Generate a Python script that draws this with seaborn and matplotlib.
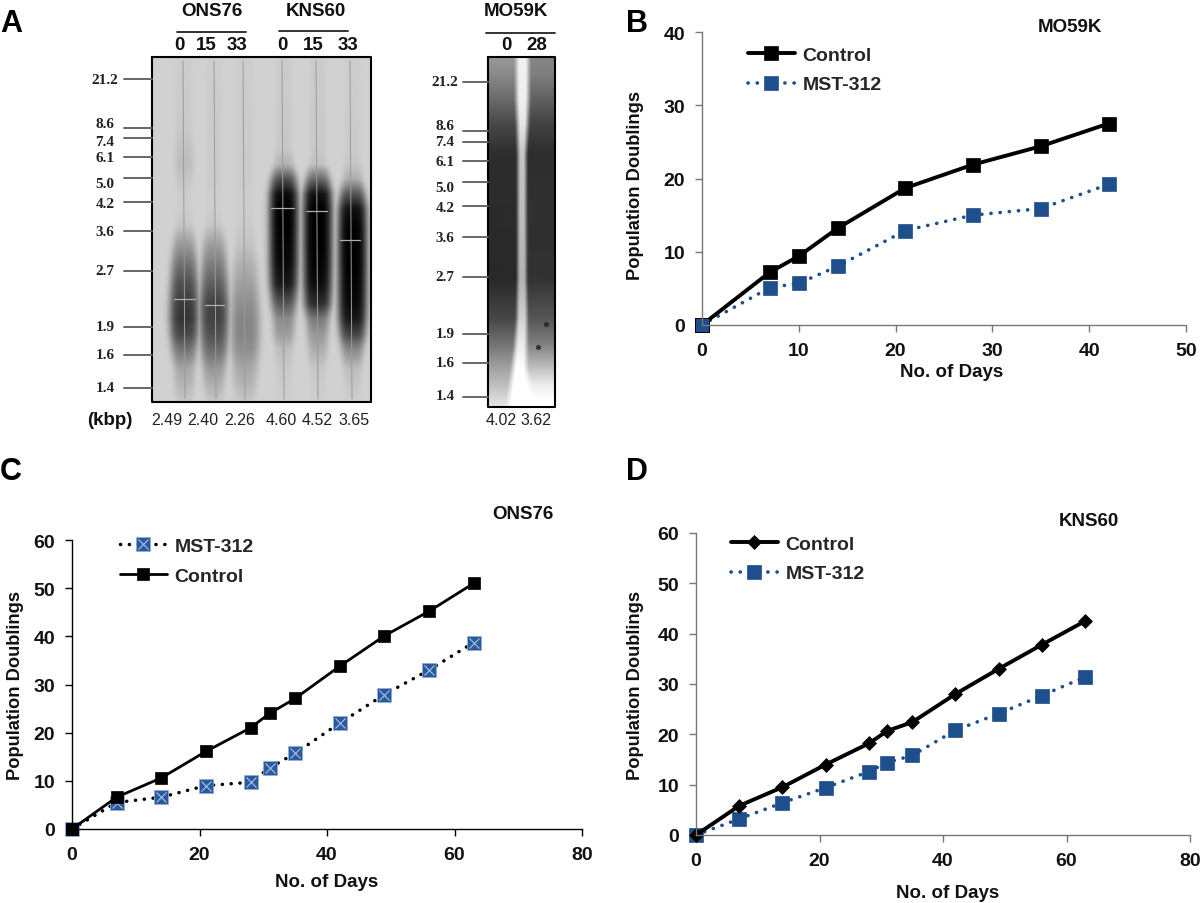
import numpy as np
import pandas as pd
import seaborn as sns
import matplotlib
matplotlib.use("Agg")
import matplotlib.pyplot as plt
from matplotlib.legend_handler import HandlerTuple

sns.set_theme(style="white")
plt.rcParams['font.family'] = ['Liberation Sans', 'DejaVu Sans']
plt.rcParams['font.weight'] = 'bold'

W, H = 1200, 904
BLUE = '#1f4e8c'

# ---- growth curves ----
days_b = [0, 7, 10, 14, 21, 28, 35, 42]
b_control = [0, 7.2, 9.4, 13.2, 18.7, 21.9, 24.4, 27.5]
b_mst = [0, 5.1, 5.7, 8.0, 12.9, 15.0, 15.9, 19.2]
days_cd = [0, 7, 14, 21, 28, 31, 35, 42, 49, 56, 63]
c_control = [0, 6.6, 10.6, 16.1, 21.0, 24.0, 27.1, 33.8, 40.1, 45.2, 51.0]
c_mst = [0, 5.5, 6.6, 9.0, 9.7, 12.7, 15.7, 22.0, 27.9, 33.0, 38.7]
d_control = [0, 5.8, 9.5, 14.0, 18.2, 20.7, 22.4, 28.0, 33.0, 37.8, 42.5]
d_mst = [0, 3.2, 6.4, 9.4, 12.6, 14.4, 15.8, 20.8, 24.1, 27.7, 31.4]

# ---- gel ----
size_labels = ['21.2', '8.6', '7.4', '6.1', '5.0', '4.2', '3.6', '2.7', '1.9', '1.6', '1.4']
gel1_rows = [58, 130, 150, 165, 180, 195, 210, 225, 245, 265, 285, 305, 320, 335, 350, 370, 385, 403]
gel1_lanes = {
    184: [.02, .04, .08, .10, .06, .02, .02, .05, .26, .46, .62, .72, .74, .66, .46, .20, .14, .05],
    214: [.02, .03, .03, .03, .03, .02, .02, .04, .24, .40, .55, .68, .68, .62, .50, .28, .17, .05],
    245: [.02, .03, .03, .03, .03, .02, .02, .03, .07, .16, .24, .32, .36, .36, .32, .20, .14, .05],
    284: [.03, .04, .05, .15, .62, .95, 1.0, 1.0, .98, .96, .88, .58, .34, .26, .10, .04, .03, .02],
    318: [.03, .04, .04, .08, .50, .92, 1.0, 1.0, 1.0, .98, .94, .78, .42, .28, .18, .05, .03, .02],
    353: [.02, .03, .03, .05, .18, .60, .92, .98, 1.0, 1.0, .98, .95, .88, .68, .36, .10, .05, .02],
}
gel1_halfwidth = 15
gel1_lines = [183, 214, 243, 282, 316, 350]

gel2_rows = [58, 75, 100, 125, 155, 280, 320, 345, 370, 385, 400, 408]
gel2_left = [.40, .46, .58, .72, .82, .84, .72, .55, .36, .26, .15, .10]
gel2_right = [.48, .50, .62, .74, .82, .80, .66, .50, .24, .08, .0, .0]
gel2_gap_left = [518, 518, 518, 519, 520, 520, 519, 517, 514, 512, 510, 509]
gel2_gap_right = [527, 527, 527, 526, 524, 524, 525, 525, 525, 528, 532, 535]
gel2_stripe = [.06, .06, .06, .10, .22, .30, .18, .08, .0, .0, .0, .0]

fig = plt.figure(figsize=(W / 100, H / 100), dpi=100, facecolor='white')


def px_axes(x0, x1, ytop, ybot):
    return fig.add_axes([x0 / W, 1 - ybot / H, (x1 - x0) / W, (ybot - ytop) / H])


over = fig.add_axes([0, 0, 1, 1], facecolor='none')
over.set_xlim(0, W)
over.set_ylim(H, 0)
over.axis('off')

# gel 1
xs = np.arange(152, 372, 1.0)
ys = np.arange(58, 404, 1.0)
img = np.zeros((len(ys), len(xs)))
for c, vals in gel1_lanes.items():
    prof = np.interp(ys, gel1_rows, vals)
    width = gel1_halfwidth * (0.45 + 0.55 * np.sqrt(prof / prof.max()))
    img = np.maximum(img, prof[:, None] * np.exp(-((xs[None, :] - c) / width[:, None]) ** 4))
gray = 0.82 - 0.82 * img
over.imshow(gray, extent=(152, 371, 403, 58), cmap='gray', vmin=0, vmax=1, aspect='auto',
            interpolation='bilinear')
for x in gel1_lines:
    over.plot([x, x + 2], [62, 400], color='#9a9a9a', lw=0.7)
for x0, x1, y in [(174, 195, 300), (205, 224, 306), (271, 294, 209), (306, 327, 212), (340, 360, 241)]:
    over.plot([x0, x1], [y, y], color='#b0b0b0', lw=0.9)
over.plot([152, 371, 371, 152, 152], [58, 58, 403, 403, 58], color='black', lw=1.5)

# gel 2
xs2 = np.arange(488, 556, 1.0)
ys2 = np.arange(58, 409, 1.0)
l = np.interp(ys2, gel2_rows, gel2_left)
r = np.interp(ys2, gel2_rows, gel2_right)
gl = np.interp(ys2, gel2_rows, gel2_gap_left)
gr = np.interp(ys2, gel2_rows, gel2_gap_right)
st = np.interp(ys2, gel2_rows, gel2_stripe)
left_mask = np.clip((gl[:, None] - xs2[None, :]) / 6 + 0.3, 0, 1)
right_mask = np.clip((xs2[None, :] - gr[:, None]) / 6 + 0.3, 0, 1)
img2 = l[:, None] * left_mask + r[:, None] * right_mask
img2 = np.maximum(img2, st[:, None])
over.imshow(1 - img2, extent=(488, 555, 408, 58), cmap='gray', vmin=0, vmax=1, aspect='auto',
            interpolation='bilinear')
over.scatter([546, 538], [325, 348], s=14, color='#222222', linewidths=0, alpha=0.8)
over.plot([488, 555, 555, 488, 488], [58, 58, 408, 408, 58], color='black', lw=1.5)
over.set_xlim(0, W)
over.set_ylim(H, 0)

# gel size ladders
ladder1_y = [80, 129, 139, 158, 179, 203, 232, 272, 328, 356, 389]
ladder1_ty = [80, 124, 142, 158, 184, 205, 233, 272, 328, 356, 389]
ladder2_y = [83, 132, 143, 162, 183, 207, 238, 278, 335, 364, 398]
ladder2_ty = [83, 127, 143, 162, 188, 209, 238, 278, 335, 364, 397]
serif = ['Liberation Serif']
for lab, y, ty in zip(size_labels, ladder1_y, ladder1_ty):
    over.plot([124, 152], [y, y], color='#666666', lw=1.4)
    over.text(105, ty, lab, family=serif, fontsize=11, weight='bold', ha='center', va='center', color='#222222')
for lab, y, ty in zip(size_labels, ladder2_y, ladder2_ty):
    over.plot([463, 488], [y, y], color='#666666', lw=1.4)
    over.text(445, ty, lab, family=serif, fontsize=11, weight='bold', ha='center', va='center', color='#222222')

# gel headings
tf = dict(fontsize=13.5, weight='bold', ha='center', va='center', color='#111111')
for s, x, y in [('ONS76', 212, 11), ('KNS60', 316, 11), ('MO59K', 516, 11),
                ('0', 179, 45), ('15', 206, 45), ('33', 237, 45),
                ('0', 282, 45), ('15', 313, 45), ('33', 348, 45),
                ('0', 506, 45), ('28', 537, 45), ('(kbp)', 110, 421)]:
    over.text(x, y, s, **tf)
for x0, x1, y in [(177, 246, 33), (279, 348, 32), (486, 555, 34)]:
    over.plot([x0, x1], [y, y], color='#222222', lw=1.3)
nf = dict(fontsize=11.5, weight='normal', ha='center', va='center', color='#222222')
for s, x in [('2.49', 167), ('2.40', 203), ('2.26', 240), ('4.60', 281), ('4.52', 317), ('3.65', 354)]:
    over.text(x, 421, s, **nf)
for s, x in [('4.02', 501), ('3.62', 536)]:
    over.text(x, 421, s, **nf)

# panel letters
for s, x, y in [('A', 0, 24), ('B', 626, 24), ('C', 0, 472), ('D', 626, 472)]:
    over.text(x, y, s, fontsize=22, weight='bold', ha='left', va='center', color='black')


def style_axis(ax, xmax, ymax, xstep, ystep, spine, ylab_x, xlab_y, xlab_x=0.5, ylab_y=0.5):
    ax.set_xlim(0, xmax)
    ax.set_ylim(0, ymax)
    ax.set_xticks(range(0, xmax + 1, xstep))
    ax.set_yticks(range(0, ymax + 1, ystep))
    sns.despine(ax=ax)
    for side in ('left', 'bottom'):
        ax.spines[side].set_color(spine)
        ax.spines[side].set_linewidth(1.0)
    ax.tick_params(axis='both', direction='out', length=5, width=1, color=spine,
                   labelsize=14, labelcolor='#111111', left=True, bottom=True, pad=7)
    for t in ax.get_xticklabels() + ax.get_yticklabels():
        t.set_fontweight('bold')
    ax.set_xlabel('No. of Days', fontsize=13.5, weight='bold', color='#111111', va='center')
    ax.set_ylabel('Population Doublings', fontsize=13.2, weight='bold', color='#111111', va='center')
    ax.xaxis.set_label_coords(xlab_x, xlab_y)
    ax.yaxis.set_label_coords(ylab_x, ylab_y)
    ax.set_facecolor('none')


def curve(ax, days, vals, label, color, dotted, marker, ms, lw):
    df = pd.DataFrame({'day': days, 'pd': vals})
    sns.lineplot(data=df, x='day', y='pd', ax=ax, color=color, lw=lw, marker=marker,
                 markersize=ms, markeredgecolor=color, markeredgewidth=0.5, label=label,
                 errorbar=None, clip_on=False, legend=False)
    line = ax.get_lines()[-1]
    if dotted:
        line.set_linestyle((0, (0.05, 2.5)))
        line.set_dash_capstyle('round')
    return line


legend_kw = dict(frameon=False, fontsize=14, loc='upper left', handlelength=2.4, handletextpad=0.4,
                 labelspacing=0.62, borderaxespad=0, borderpad=0)

# ---- B ----
axb = px_axes(702, 1186, 33, 326)
mb = curve(axb, days_b, b_mst, 'MST-312', BLUE, True, 's', 9.5, 2.6)
cb = curve(axb, days_b, b_control, 'Control', 'black', False, 's', 10.5, 2.8)
axb.plot([0], [0], 's', color=BLUE, ms=10.5, mec='black', mew=0.6, clip_on=False)
style_axis(axb, 50, 40, 10, 10, '#777777', -0.137, -0.157, 0.515, 0.48)
axb.legend([cb, mb], ['Control', 'MST-312'], bbox_to_anchor=(0.095, 0.952), **legend_kw)
over.text(1070, 27, 'MO59K', fontsize=13.5, weight='bold', ha='center', va='center', color='#111111')

# ---- C ----
axc = px_axes(72, 582, 541, 830)
mc = curve(axc, days_cd, c_mst, 'MST-312', 'black', True, 's', 9.5, 2.5)
mc.set_markerfacecolor('#2a5a9c')
mc.set_markeredgecolor('#8fb0d8')
xc = axc.plot(days_cd, c_mst, 'x', color='#a9c4e6', ms=7, mew=0.8, clip_on=False)[0]
cc = curve(axc, days_cd, c_control, 'Control', 'black', False, 's', 8.8, 2.0)
style_axis(axc, 80, 60, 20, 10, 'black', -0.111, -0.182)
axc.legend([(mc, xc), cc], ['MST-312', 'Control'], bbox_to_anchor=(0.094, 1.008),
           handler_map={tuple: HandlerTuple(ndivide=1, pad=0)}, **legend_kw)
over.text(523, 515, 'ONS76', fontsize=13.5, weight='bold', ha='center', va='center', color='#111111')

# ---- D ----
axd = px_axes(696, 1190, 534, 836)
md = curve(axd, days_cd, d_mst, 'MST-312', BLUE, True, 's', 10.5, 2.6)
cd = curve(axd, days_cd, d_control, 'Control', 'black', False, 'D', 7.5, 2.8)
style_axis(axd, 80, 60, 20, 10, '#777777', -0.122, -0.192, 0.51)
axd.legend([cd, md], ['Control', 'MST-312'], bbox_to_anchor=(0.071, 0.993), **legend_kw)
over.text(1089, 522, 'KNS60', fontsize=13.5, weight='bold', ha='center', va='center', color='#111111')

fig.savefig('out.png', dpi=100, facecolor='white')
